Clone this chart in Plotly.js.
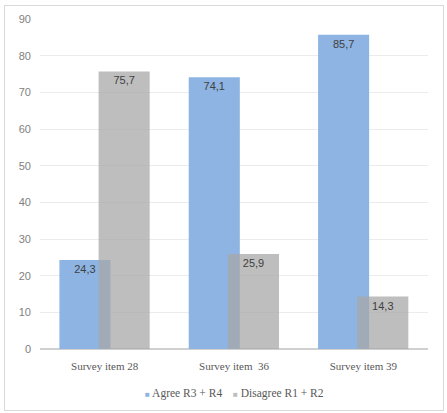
<!DOCTYPE html>
<html>
<head>
<meta charset="utf-8">
<script src="https://cdn.plot.ly/plotly-3.0.1.min.js"></script>
<style>
html,body{margin:0;padding:0;background:#fff;}
#frame{position:absolute;left:4px;top:5px;width:438px;height:404px;border:1px solid #d9d9d9;}
#chart{width:438px;height:404px;}
</style>
</head>
<body>
<div id="frame"><div id="chart"></div></div>
<script>
const categories = ["Survey item 28", "Survey item \u00a036", "Survey item 39"];
const agreeValues = [24.3, 74.1, 85.7];
const disagreeValues = [75.7, 25.9, 14.3];
const seriesNames = ["Agree R3 + R4", "Disagree R1 + R2"];
const yTicks = [0, 10, 20, 30, 40, 50, 60, 70, 80, 90];

const blue = "rgb(141,180,226)";
const gray = "rgba(167,167,167,0.74)";
const grayLegend = "rgb(190,190,190)";

const fmt = v => v.toFixed(1).replace('.', ',');

const labelFont = {family: "Liberation Sans, Arial, sans-serif", size: 11, color: "#404040"};

const traces = [
  {
    type: "bar", name: seriesNames[0], x: categories, y: agreeValues,
    text: agreeValues.map(fmt), textposition: "inside", insidetextanchor: "end",
    textfont: labelFont, textangle: 0,
    marker: {color: blue},
    width: 0.395, offset: -0.35, hoverinfo: "skip"
  },
  {
    type: "bar", name: seriesNames[1], x: categories, y: disagreeValues,
    text: disagreeValues.map(fmt), textposition: "inside", insidetextanchor: "end",
    textfont: labelFont, textangle: 0,
    marker: {color: gray},
    width: 0.395, offset: -0.047, hoverinfo: "skip"
  }
];

const legendFont = {family: "Liberation Serif, Times New Roman, serif", size: 11.5, color: "#595959"};
const sq = c => '<span style="color:' + c + ';font-size:8px">\u25A0</span>';

const layout = {
  width: 438, height: 404,
  margin: {l: 35, r: 15, t: 13, b: 61},
  paper_bgcolor: "#fff", plot_bgcolor: "#fff",
  barmode: "overlay",
  showlegend: false,
  annotations: [
    {xref: "paper", yref: "paper", x: (178 - 35) / 388, y: -44 / 330, xanchor: "center", yanchor: "middle",
     showarrow: false, text: sq(blue) + " " + seriesNames[0], font: legendFont},
    {xref: "paper", yref: "paper", x: (273 - 35) / 388, y: -44 / 330, xanchor: "center", yanchor: "middle",
     showarrow: false, text: sq(grayLegend) + " " + seriesNames[1], font: legendFont}
  ],
  xaxis: {
    type: "category", range: [-0.5, 2.5],
    showgrid: false, showline: false, zeroline: false, ticks: "",
    ticklabelstandoff: 9,
    tickfont: {family: "Liberation Serif, Times New Roman, serif", size: 11, color: "#595959"},
    fixedrange: true
  },
  yaxis: {
    range: [0, 90], tickvals: yTicks, ticktext: yTicks.map(String),
    showgrid: true, gridcolor: "#ececec", gridwidth: 1,
    zeroline: true, zerolinecolor: "#d0d0d0", zerolinewidth: 1.5,
    showline: false, ticks: "", ticklabelstandoff: 8,
    tickfont: {family: "Liberation Sans, Arial, sans-serif", size: 11, color: "#7f7f7f"},
    fixedrange: true
  }
};

Plotly.newPlot("chart", traces, layout, {displayModeBar: false, staticPlot: true});
</script>
</body>
</html>
